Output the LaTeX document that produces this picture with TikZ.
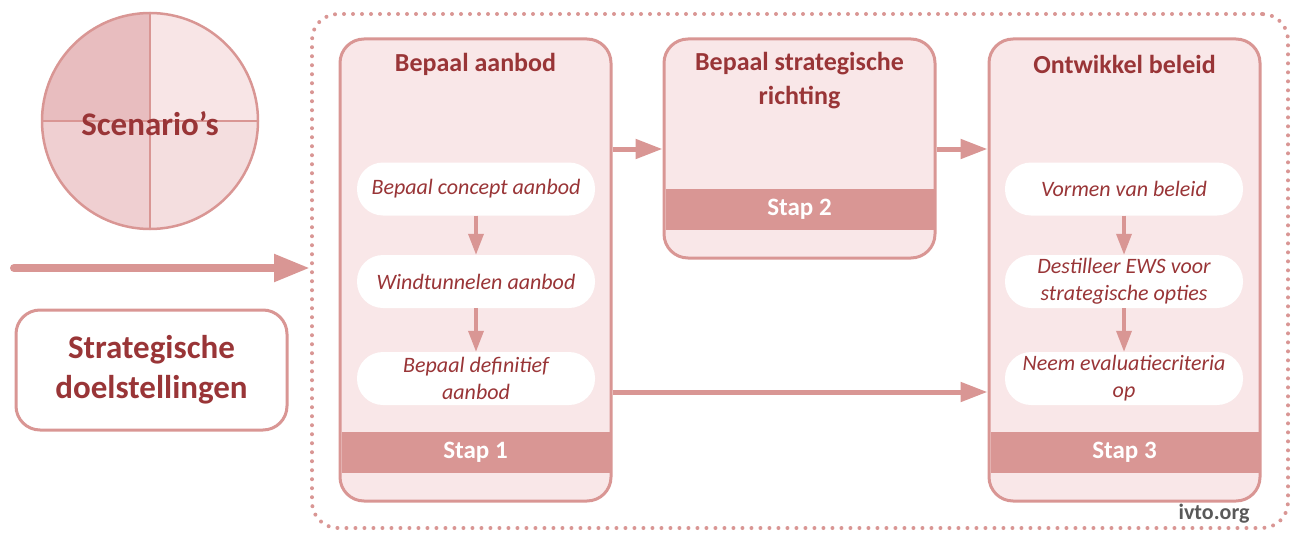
\documentclass[tikz,border=0pt]{standalone}
\usepackage{fontspec}
\setmainfont{Carlito}
\usetikzlibrary{arrows.meta}

\definecolor{rim}{HTML}{D99694}
\definecolor{ink}{HTML}{993537}
\definecolor{pane}{HTML}{F9E7E8}
\definecolor{quadA}{HTML}{E8BDBF}
\definecolor{quadB}{HTML}{F8E5E6}
\definecolor{quadC}{HTML}{EFCFD1}
\definecolor{quadD}{HTML}{F4DEDF}

\begin{document}
\begin{tikzpicture}[x=1pt,y=-1pt,
    stapbox/.style={draw=rim,line width=3pt,fill=pane,rounded corners=24pt,minimum width=271pt,inner sep=0pt},
    band/.style={fill=rim,text=white,font=\bfseries\fontsize{25}{30}\selectfont,minimum width=268pt,minimum height=41pt,inner sep=0pt},
    title/.style={text=ink,font=\bfseries\fontsize{26}{34}\selectfont,align=center},
    pill/.style={fill=white,rounded corners=26pt,minimum width=238pt,minimum height=53pt,inner sep=0pt,text=ink,font=\itshape\fontsize{22}{27}\selectfont,align=center},
    flow/.style={rim,line width=5pt,-{Triangle[length=27pt,width=19pt]}},
    hop/.style={rim,line width=3.5pt,-{Triangle[length=21pt,width=15pt]}}]
  \useasboundingbox (0,0) rectangle (1300,543);

  % scenario circle
  \fill[quadA] (150,121) -- (42,121) arc (180:270:108) -- cycle;
  \fill[quadB] (150,121) -- (150,13) arc (270:360:108) -- cycle;
  \fill[quadC] (150,121) -- (42,121) arc (180:90:108) -- cycle;
  \fill[quadD] (150,121) -- (258,121) arc (0:90:108) -- cycle;
  \node[circle,draw=rim,line width=2.5pt,minimum size=216pt,inner sep=0pt] (scen) at (150,121) {};
  \draw[rim,line width=2.5pt] (scen.north) -- (scen.south);
  \draw[rim,line width=2.5pt] (scen.west) -- (scen.east);
  \node[text=ink,font=\bfseries\fontsize{33}{40}\selectfont] (scentxt) at (150,124) {Scenario’s};

  % outer frame
  \node[draw=rim,line width=4pt,line cap=round,dash pattern=on 0pt off 9pt,rounded corners=26pt,
        minimum width=976pt,minimum height=514pt,inner sep=0pt] (frame) at (800,271) {};
  \coordinate (start) at (14,268);
  \draw[rim,line width=8pt,line cap=round,-{Triangle[length=36pt,width=26pt]}] (start) -- (frame.west |- start);

  \node[draw=rim,line width=3pt,fill=white,rounded corners=24pt,minimum width=271pt,minimum height=120pt,
        text=ink,font=\bfseries\fontsize{33}{40}\selectfont,align=center] (goals) at (151.5,370) {Strategische\\doelstellingen};

  % stap 1
  \node[stapbox,minimum height=462pt] (box1) at (475.5,270) {};
  \node[band] (band1) at (475.5,452.5) {Stap 1};
  \node[title] (title1) at (475.5,64) {Bepaal aanbod};
  \node[pill] (p11) at (476,189) {Bepaal concept aanbod};
  \node[pill] (p12) at (476,281.5) {Windtunnelen aanbod};
  \node[pill] (p13) at (476,378.5) {Bepaal definitief\\aanbod};
  \draw[hop] (p11) -- (p12);
  \draw[hop] (p12) -- (p13);

  % stap 2
  \node[stapbox,minimum height=219pt] (box2) at (799.5,148.5) {};
  \node[band] (band2) at (799.5,209.5) {Stap 2};
  \node[title] (title2) at (799.5,81) {Bepaal strategische\\richting};

  % stap 3
  \node[stapbox,minimum height=462pt] (box3) at (1124.5,270) {};
  \node[band] (band3) at (1124.5,452.5) {Stap 3};
  \node[title] (title3) at (1124.5,64) {Ontwikkel beleid};
  \node[pill] (p31) at (1124,189) {Vormen van beleid};
  \node[pill] (p32) at (1124,281.5) {Destilleer EWS voor\\strategische opties};
  \node[pill] (p33) at (1124,378.5) {Neem evaluatiecriteria\\op};
  \draw[hop] (p31) -- (p32);
  \draw[hop] (p32) -- (p33);

  % flow between steps
  \draw[flow] (box1.east |- 0,149) -- (box2.west |- 0,149);
  \draw[flow] (box2.east |- 0,149) -- (box3.west |- 0,149);
  \draw[flow] (box1.east |- 0,392) -- (box3.west |- 0,392);

  \node[text=black!65,font=\bfseries\fontsize{22}{26}\selectfont] (site) at (1214,514) {ivto.org};
\end{tikzpicture}
\end{document}
